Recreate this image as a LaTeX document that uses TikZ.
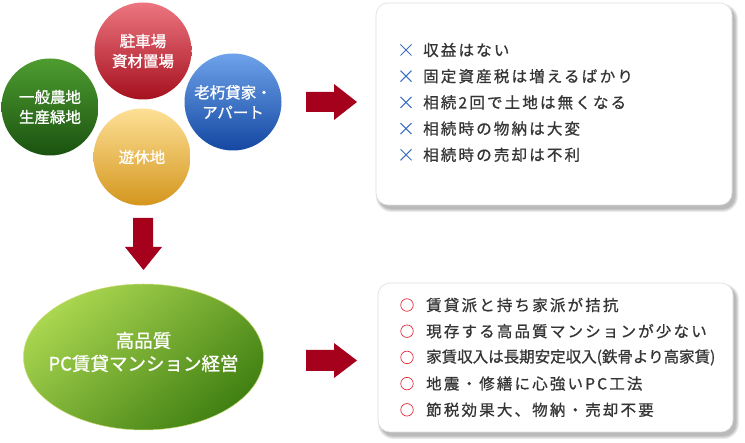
\documentclass[tikz,border=0pt]{standalone}
\usepackage{fontspec}
\newfontfamily\jp[FakeBold=1]{Noto Sans CJK JP}
\newfontfamily\jpsp[LetterSpace=14,FakeBold=0.8]{Noto Sans CJK JP}
\newfontfamily\jptight[FakeBold=0.8]{Noto Sans CJK JP}
\usetikzlibrary{shapes.misc}
\definecolor{arrowred}{HTML}{A5001C}
\definecolor{txtgray}{HTML}{353535}
\definecolor{crossblue}{HTML}{3A6FC4}
\definecolor{ringred}{HTML}{E4303E}
\definecolor{greenA}{RGB}{78,156,48}
\definecolor{greenB}{RGB}{26,82,16}
\definecolor{blueA}{RGB}{110,162,234}
\definecolor{blueB}{RGB}{20,72,162}
\definecolor{redA}{RGB}{236,118,128}
\definecolor{redB}{RGB}{166,16,30}
\definecolor{yelA}{RGB}{253,224,150}
\definecolor{yelB}{RGB}{212,150,30}
\definecolor{limeA}{RGB}{170,214,80}
\definecolor{limeB}{RGB}{64,128,18}
\definecolor{limeEdge}{RGB}{205,220,120}
\tikzset{
  bubble/.style={circle, minimum size=97pt, inner sep=0pt, text=white,
    font=\jp\fontsize{15.5}{20}\selectfont, align=center, shading angle=30},
  panel/.style={draw=black!13, line width=0.6pt, fill=white, rounded corners=12pt},
  itemtext/.style={anchor=west, inner sep=0pt, text=txtgray, font=\jpsp\fontsize{15.5}{18}\selectfont},
  xmark/.style={cross out, draw=crossblue, line width=1pt, minimum size=10pt, inner sep=0pt},
  omark/.style={circle, draw=ringred, line width=0.7pt, minimum size=12.5pt, inner sep=0pt},
  blockarrow/.style={fill=arrowred}
}
\begin{document}
\begin{tikzpicture}[x=1pt,y=-1pt]
\useasboundingbox (0,0) rectangle (745,443);
\fill[white] (0,0) rectangle (745,443);

% circles
\node[bubble, top color=greenA, bottom color=greenB] (green) at (50,107) {一般農地\\生産緑地};
\node[bubble, top color=blueA, bottom color=blueB] (blue) at (233,102) {老朽貸家・\\アパート};
\node[bubble, top color=redA, bottom color=redB] (red) at (143,51) {駐車場\\資材置場};
\node[bubble, top color=yelA, bottom color=yelB] (yellow) at (142,157) {遊休地};

% ellipse
\shade[top color=limeA, bottom color=limeB, shading angle=40]
  (143.5,357) ellipse [x radius=120, y radius=73];
\draw[line width=0.5pt, limeEdge] (143.5,357) ellipse [x radius=120, y radius=73];
\node[coordinate] (ell) at (143.5,357) {};
\node[text=white, font=\jp\fontsize{18.5}{23}\selectfont, align=center, inner sep=0pt] (elltxt) at (143.5,352) {高品質\\PC賃貸マンション経営};

% block arrows
\fill[blockarrow] (306,92) -- (334,92) -- (334,84) -- (357,102) -- (334,120) -- (334,112) -- (306,112) -- cycle;
\fill[blockarrow] (306,350) -- (334,350) -- (334,343) -- (357,360.5) -- (334,378) -- (334,371) -- (306,371) -- cycle;
\fill[blockarrow] (133,218) -- (153,218) -- (153,247) -- (162,247) -- (143.5,270) -- (125,247) -- (133,247) -- cycle;

% panel shadows
\foreach \i in {0,1,2,3,4}{
  \fill[black, opacity=0.06, rounded corners=12pt+\i pt]
    (376+3-\i*0.8,3+4-\i*0.8) rectangle (732+3+\i*0.8,205+4+\i*0.8);
  \fill[black, opacity=0.06, rounded corners=12pt+\i pt]
    (378+3-\i*0.8,283+4-\i*0.8) rectangle (733+3+\i*0.8,432+4+\i*0.8);
}
\node[panel, minimum width=356pt, minimum height=202pt, inner sep=0pt] (box1) at (554,104) {};
\node[panel, minimum width=355pt, minimum height=149pt, inner sep=0pt] (box2) at (555.5,357.5) {};

% box 1 items
\foreach \t [count=\k from 0] in {収益はない, 固定資産税は増えるばかり, 相続2回で土地は無くなる, 相続時の物納は大変, 相続時の売却は不利}{
  \node[xmark] (x\k) at (406,50+\k*26.2) {};
  \node[itemtext] (t\k) at (423,50+\k*26.2) {\t};
}
% box 2 items
\foreach \t [count=\k from 0] in {賃貸派と持ち家派が拮抗, 現存する高品質マンションが少ない, {\jptight 家賃収入は長期安定収入(鉄骨より高家賃)}, 地震・修繕に心強いPC工法, 節税効果大、物納・売却不要}{
  \node[omark] (o\k) at (407,305+\k*26.2) {};
  \node[itemtext] (u\k) at (426,305+\k*26.2) {\t};
}
\end{tikzpicture}
\end{document}
